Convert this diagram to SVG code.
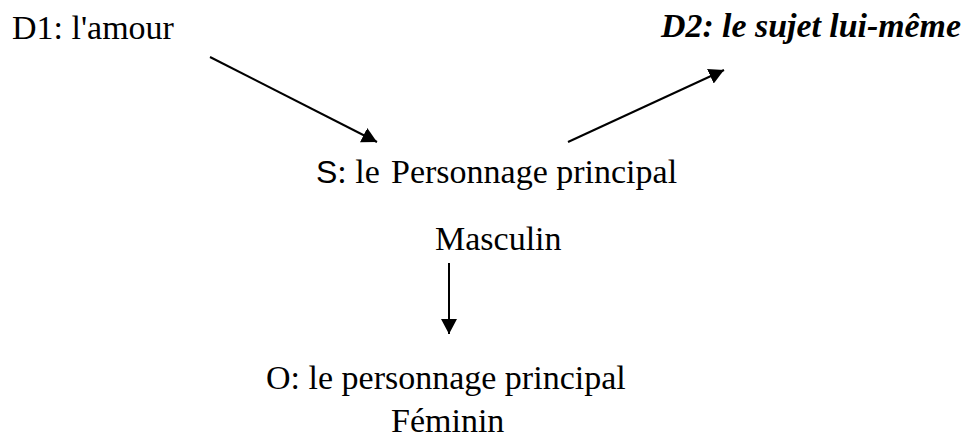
<svg xmlns="http://www.w3.org/2000/svg" width="969" height="439" viewBox="0 0 969 439">
<style>
.t{font-family:"Liberation Serif","Times New Roman",serif;font-size:34px;fill:#000;white-space:pre}
.bi{font-weight:bold;font-style:italic;font-size:34px}
.s{font-family:"Liberation Sans",Arial,sans-serif;font-size:32px}
.c{stroke:#000;stroke-width:2;fill:none}
</style>
<defs>
<marker id="ah" markerUnits="userSpaceOnUse" markerWidth="16" markerHeight="16" refX="15" refY="8" orient="auto">
<path d="M0,0 L15,8 L0,16 Z" fill="#000"/>
</marker>
</defs>
<rect width="969" height="439" fill="#fff"/>
<g id="connectors">
<line class="c" x1="210" y1="57" x2="377" y2="142" marker-end="url(#ah)"/>
<line class="c" x1="568" y1="142" x2="724" y2="70" marker-end="url(#ah)"/>
<line class="c" x1="449" y1="263" x2="449" y2="334" marker-end="url(#ah)"/>
</g>
<g id="d1"><text class="t" x="12" y="39">D1: l'amour</text></g>
<g id="d2"><text class="t bi" x="661" y="37" textLength="300" lengthAdjust="spacingAndGlyphs">D2: le sujet lui-même</text></g>
<g id="s"><text class="t" x="316" y="183"><tspan class="s">S</tspan>: le<tspan x="391">Personnage principal</tspan></text>
<text class="t" x="435" y="250">Masculin</text></g>
<g id="o"><text class="t" x="266" y="389">O: le personnage principal</text>
<text class="t" x="391" y="432">Féminin</text></g>
</svg>
